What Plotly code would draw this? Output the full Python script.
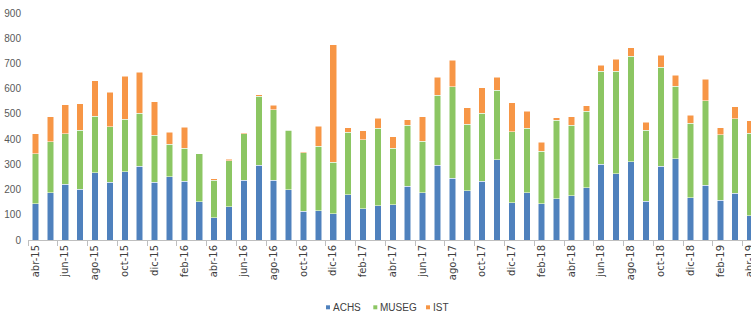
import plotly.graph_objects as go

months = ["ene", "feb", "mar", "abr", "may", "jun", "jul", "ago", "sep", "oct", "nov", "dic"]
categories = []
for i in range(49):
    m = (3 + i) % 12
    y = 15 + (3 + i) // 12
    categories.append(f"{months[m]}-{y}")

# stacked cumulative tops
achs = [143, 188, 221, 202, 267, 228, 271, 292, 228, 251, 232, 151, 89, 132, 236, 296,
        236, 200, 114, 116, 105, 180, 124, 136, 140, 214, 188, 296, 244, 196, 232, 319,
        147, 188, 144, 164, 176, 208, 300, 263, 311, 154, 292, 323, 168, 218, 157, 185, 97]
museg_top = [341, 390, 421, 435, 491, 450, 478, 502, 416, 380, 364, 341, 237, 315, 421, 570,
             517, 435, 345, 372, 308, 427, 398, 443, 364, 454, 392, 574, 607, 458, 503, 594,
             429, 443, 351, 474, 455, 511, 670, 670, 728, 435, 684, 609, 463, 552, 417, 480, 424]
ist_top = [421, 488, 536, 540, 631, 585, 650, 666, 548, 427, 447, 341, 242, 320, 426, 576,
           535, 437, 349, 451, 774, 445, 433, 482, 410, 476, 488, 646, 713, 525, 603, 646,
           544, 511, 388, 484, 488, 533, 692, 717, 762, 466, 732, 654, 495, 638, 445, 529, 472]
museg = [t - a for t, a in zip(museg_top, achs)]
ist = [t - m for t, m in zip(ist_top, museg_top)]

series = [("ACHS", achs, "#4F81BD"), ("MUSEG", museg, "#8CC663"), ("IST", ist, "#F79646")]
tick_labels = categories[::2]

NARROW = "Liberation Sans Narrow, Arial Narrow, Liberation Sans, Arial, sans-serif"
WIDE = "DejaVu Sans, Verdana, sans-serif"

fig = go.Figure()
for name, vals, col in series:
    fig.add_trace(go.Bar(x=categories, y=vals, name=name, marker_color=col,
                         marker_line=dict(width=0.6, color="rgba(255,255,255,0.85)")))

fig.update_layout(
    width=751, height=316, barmode="stack", bargap=0.56,
    margin=dict(l=28, r=0, t=13, b=76, autoexpand=False),
    plot_bgcolor="white", paper_bgcolor="white",
    showlegend=False,
    font=dict(family=NARROW, size=10, color="#595959"),
)
fig.update_xaxes(
    type="category", range=[-0.5, 48.06], automargin=False,
    tickmode="array", tickvals=tick_labels, ticktext=tick_labels,
    tickangle=-90, tickson="boundaries", ticks="outside", ticklen=5,
    tickcolor="#BFBFBF", showline=True, linecolor="#BFBFBF", linewidth=1,
    showgrid=False, tickfont=dict(family=WIDE, size=10, color="#404040"),
)
fig.update_yaxes(
    range=[0, 900], dtick=100, showgrid=False, showline=False, zeroline=False,
    ticks="", ticklabelstandoff=6, automargin=False,
    tickfont=dict(family=NARROW, size=10, color="#595959"),
)

# legend drawn as squares + text
leg_x = [326, 373.3, 426]
py = 307.3
for (name, vals, col), lx in zip(series, leg_x):
    x0 = (lx - 28) / 723
    x1 = (lx + 4 - 28) / 723
    y0 = (240 - (py + 2)) / 227
    y1 = (240 - (py - 2)) / 227
    fig.add_shape(type="rect", xref="paper", yref="paper", x0=x0, x1=x1, y0=y0, y1=y1,
                  fillcolor=col, line=dict(width=0))
    fig.add_annotation(xref="paper", yref="paper", x=(lx + 5.5 - 28) / 723, y=(240 - py) / 227,
                       text=name, showarrow=False, xanchor="left", yanchor="middle",
                       borderpad=0, font=dict(family=NARROW, size=10, color="#404040"))

fig.write_html("out.html", config={"displayModeBar": False},
               post_script="document.body.style.margin='0';document.body.style.overflow='hidden';")
